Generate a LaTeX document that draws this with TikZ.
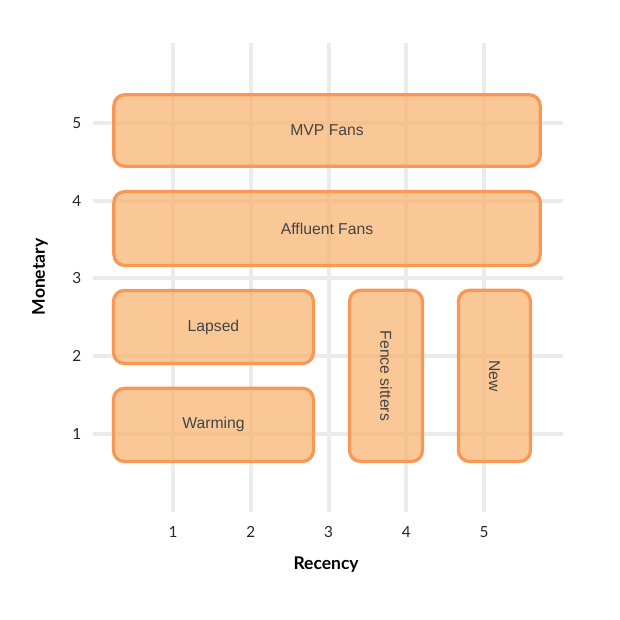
\documentclass[tikz,border=0pt]{standalone}
\usepackage{fontspec}
\setmainfont{Liberation Sans}
\newfontfamily\axisfont{Lato}
\definecolor{gridgray}{RGB}{235,235,235}
\definecolor{segfill}{RGB}{248,176,105}
\definecolor{segline}{RGB}{247,152,86}
\definecolor{segtext}{RGB}{68,68,68}
\tikzset{
  gridline/.style={gridgray,line width=2.9pt},
  segment/.style={draw=segline,line width=2.4pt,fill=segfill,fill opacity=.7,
    text opacity=1,text=segtext,rounded corners=8pt,inner sep=0pt,
    font=\fontsize{11.5}{13}\selectfont},
  tick/.style={font=\axisfont\fontsize{11.2}{12}\selectfont,text=black!85},
  axistitle/.style={font=\axisfont\bfseries\fontsize{12.8}{14}\selectfont}
}
\begin{document}
\begin{tikzpicture}[x=2cm,y=2cm]
   \useasboundingbox (-1.224,-1.391) rectangle (6.746,6.578);
   % grid
   \draw[gridline] (1,0) -- (1,6.03);
   \draw[gridline] (2,0) -- (2,6.03);
   \draw[gridline] (3,0) -- (3,6.03);
   \draw[gridline] (4,0) -- (4,6.03);
   \draw[gridline] (5,0) -- (5,6.03);
   \draw[gridline] (-0.03,1) -- (6.01,1);
   \draw[gridline] (-0.03,2) -- (6.01,2);
   \draw[gridline] (-0.03,3) -- (6.01,3);
   \draw[gridline] (-0.03,4) -- (6.01,4);
   \draw[gridline] (-0.03,5) -- (6.01,5);
   % segments
   \node[segment,minimum width=10.96cm,minimum height=1.84cm] (mvp) at (2.98,4.90) {MVP Fans};
   \node[segment,minimum width=10.96cm,minimum height=1.90cm] (affluent) at (2.98,3.64) {Affluent Fans};
   \node[segment,minimum width=5.14cm,minimum height=1.88cm] (lapsed) at (1.52,2.375) {Lapsed};
   \node[segment,minimum width=5.14cm,minimum height=1.88cm] (warming) at (1.52,1.116) {Warming};
   \node[segment,minimum width=1.876cm,minimum height=4.40cm] (fence) at (3.738,1.746) {};
   \node[segment,minimum width=1.852cm,minimum height=4.40cm] (new) at (5.132,1.746) {};
   \node[rotate=-90,text=segtext,font=\fontsize{11.5}{13}\selectfont] (fencelbl) at (fence.center) {Fence sitters};
   \node[rotate=-90,text=segtext,font=\fontsize{11.5}{13}\selectfont] (newlbl) at (new.center) {New};
   % axes
   \node[tick] (x1) at (1,-0.265) {1};
   \node[tick] (x2) at (2,-0.265) {2};
   \node[tick] (x3) at (3,-0.265) {3};
   \node[tick] (x4) at (4,-0.265) {4};
   \node[tick] (x5) at (5,-0.265) {5};
   \node[tick] (y1) at (-0.235,1) {1};
   \node[tick] (y2) at (-0.235,2) {2};
   \node[tick] (y3) at (-0.235,3) {3};
   \node[tick] (y4) at (-0.235,4) {4};
   \node[tick] (y5) at (-0.235,5) {5};
   \node[axistitle] (recency) at (2.968,-0.68) {Recency};
   \node[axistitle,rotate=90] (monetary) at (-0.71,3.018) {Monetary};
\end{tikzpicture}
\end{document}
